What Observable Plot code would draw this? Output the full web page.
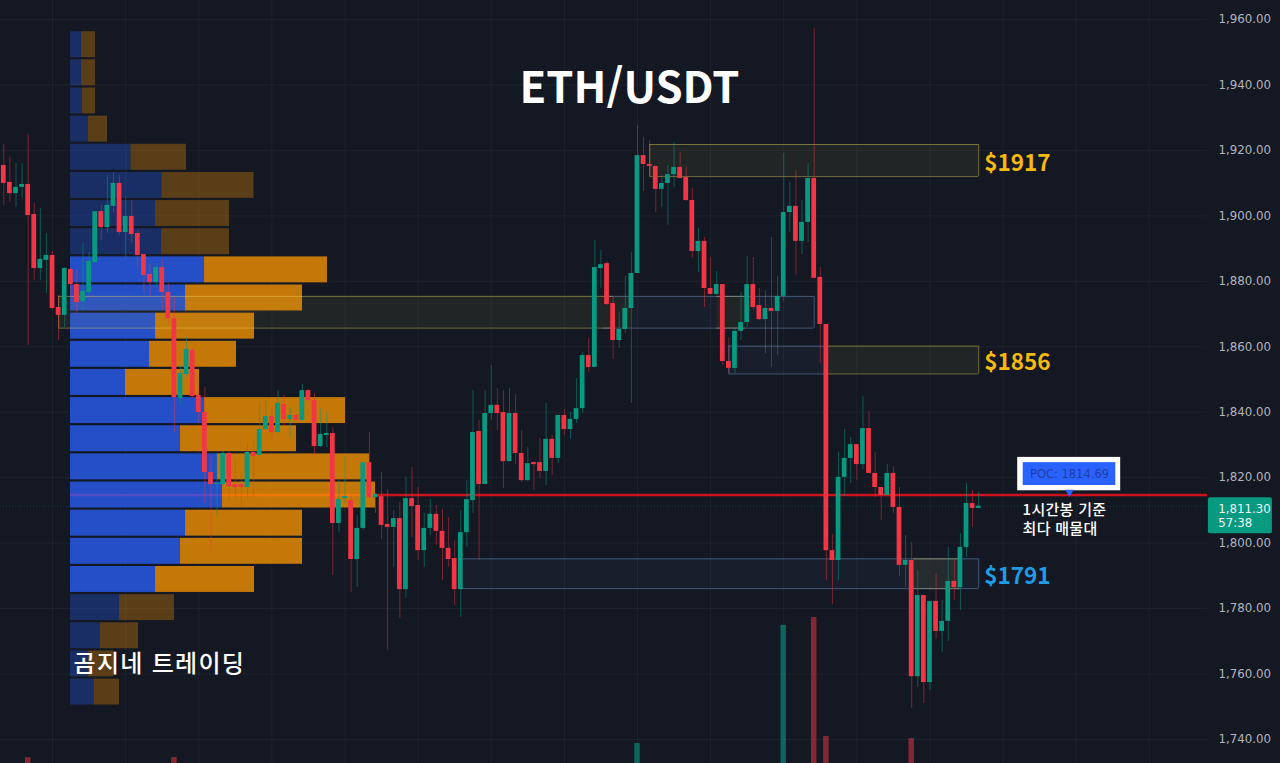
<!DOCTYPE html>
<html lang="ko">
<head>
<meta charset="utf-8">
<title>ETH/USDT</title>
<script src="https://cdn.jsdelivr.net/npm/d3@7"></script>
<script src="https://cdn.jsdelivr.net/npm/@observablehq/plot@0.6"></script>
<style>
html,body{margin:0;padding:0;background:#141823;overflow:hidden}
svg{display:block}
</style>
</head>
<body>
<div id="chart"></div>
<script>
// Hourly candles
const open = [1915.4,1910.2,1906.8,1908.7,1909.6,1900.4,1883.9,1886.4,1887.9,1872.0,1869.6,1883.6,1879.0,1873.8,1876.6,1885.7,1901.3,1896.4,1902.9,1909.9,
1894.9,1899.8,1894.6,1888.2,1882.1,1879.6,1884.2,1876.6,1868.6,1844.2,1851.5,1858.9,1845.1,1839.9,1821.6,1817.9,1817.9,1827.4,1817.9,1817.9,
1817.0,1827.7,1826.8,1834.7,1838.7,1833.8,1842.4,1837.8,1839.0,1837.5,1846.6,1843.6,1829.5,1832.9,1833.5,1806.0,1813.6,1813.0,1795.0,1804.5,
1824.6,1813.9,1814.2,1805.7,1804.8,1807.5,1785.8,1813.6,1811.5,1797.7,1804.5,1808.8,1803.6,1798.4,1795.3,1785.8,1803.2,1813.0,1834.1,1817.9,
1839.6,1842.1,1839.9,1824.9,1839.6,1827.4,1819.1,1824.6,1824.6,1821.9,1831.7,1825.9,1839.0,1834.7,1837.8,1841.1,1857.3,1853.7,1883.9,1885.4,
1873.2,1861.9,1865.3,1871.7,1882.4,1918.4,1915.7,1915.1,1908.1,1909.9,1912.6,1914.8,1911.7,1904.7,1889.1,1892.2,1877.8,1876.0,1879.0,1855.5,
1853.4,1864.7,1867.4,1879.0,1872.6,1868.3,1871.7,1870.8,1875.4,1901.0,1902.9,1892.2,1898.0,1911.4,1881.2,1866.8,1797.7,1794.7,1820.1,1825.9,
1830.1,1824.0,1835.0,1821.3,1817.0,1814.6,1821.3,1810.9,1793.2,1794.7,1759.2,1784.0,1757.4,1782.2,1773.0,1776.1,1788.3,1786.4,1798.7,1812.1,1810.6];
const high = [1921.8,1917.8,1916.0,1916.0,1924.9,1903.8,1902.2,1894.6,1889.1,1875.7,1884.2,1884.2,1883.3,1891.6,1888.8,1901.3,1903.2,1912.3,1913.2,1912.3,
1905.6,1904.7,1895.5,1888.2,1885.4,1885.4,1886.7,1879.3,1875.1,1854.3,1862.8,1859.5,1848.2,1847.6,1826.8,1827.4,1828.0,1827.7,1825.2,1821.3,
1830.4,1831.4,1843.0,1843.6,1841.4,1846.6,1845.1,1841.4,1839.3,1848.5,1847.0,1845.7,1841.1,1839.9,1835.3,1819.1,1826.2,1814.6,1808.4,1824.6,
1833.8,1815.2,1821.6,1816.4,1810.0,1812.4,1820.1,1823.1,1817.0,1809.1,1813.3,1811.5,1810.3,1807.8,1800.8,1810.0,1819.1,1846.6,1837.5,1846.6,
1854.3,1847.2,1846.6,1847.2,1845.4,1834.4,1829.2,1825.0,1832.0,1842.7,1832.9,1839.0,1840.8,1839.9,1850.3,1858.2,1862.5,1892.5,1889.4,1885.9,
1875.1,1870.5,1881.5,1888.8,1927.6,1923.9,1923.0,1915.1,1912.3,1915.4,1922.4,1919.4,1914.8,1908.4,1896.1,1893.4,1887.3,1883.0,1879.0,1862.8,
1865.9,1876.6,1887.6,1887.3,1877.8,1877.2,1893.4,1881.5,1919.1,1910.2,1913.9,1904.7,1916.0,1957.2,1884.2,1866.8,1802.6,1827.7,1834.7,1832.3,
1830.1,1844.8,1840.2,1827.7,1817.0,1824.0,1823.4,1817.0,1802.3,1800.2,1791.6,1784.0,1782.2,1790.7,1782.5,1798.7,1794.7,1802.9,1818.2,1816.1,1815.5];
const low = [1903.2,1904.1,1902.6,1905.3,1860.4,1880.2,1880.2,1876.3,1871.1,1861.9,1865.9,1875.1,1870.2,1871.1,1875.1,1885.7,1892.5,1894.6,1901.0,1894.0,
1887.3,1891.6,1884.2,1876.3,1875.4,1878.1,1871.1,1867.4,1833.8,1842.1,1850.6,1844.2,1836.6,1812.1,1797.7,1808.4,1817.0,1813.0,1813.6,1810.9,
1813.9,1813.9,1826.2,1834.4,1831.4,1833.5,1835.3,1832.3,1837.2,1837.2,1843.0,1826.8,1829.2,1829.2,1790.1,1803.2,1812.1,1784.9,1786.4,1803.9,
1813.6,1809.1,1801.1,1767.2,1792.6,1777.0,1783.1,1801.7,1794.7,1792.6,1802.3,1799.3,1788.6,1792.6,1780.9,1777.3,1798.7,1809.1,1794.7,1817.9,
1837.5,1834.4,1816.7,1824.9,1824.0,1818.5,1818.8,1816.1,1819.7,1817.6,1820.7,1824.3,1832.9,1831.7,1836.6,1839.6,1852.1,1853.7,1877.8,1872.6,
1856.1,1859.5,1864.1,1842.7,1882.4,1907.4,1912.0,1901.0,1902.6,1897.1,1908.7,1911.4,1904.4,1887.0,1882.7,1872.0,1876.0,1875.7,1854.3,1851.8,
1851.8,1861.9,1865.9,1871.1,1868.0,1857.9,1853.7,1857.3,1873.8,1894.9,1881.8,1888.2,1891.9,1880.9,1854.9,1788.6,1781.2,1788.6,1814.2,1818.2,
1819.1,1822.5,1821.3,1813.9,1806.9,1814.6,1809.1,1789.8,1786.4,1749.5,1755.9,1751.0,1755.0,1770.6,1766.6,1769.9,1782.5,1779.4,1795.6,1804.8,1810.6];
const close = [1909.9,1906.8,1908.7,1909.6,1900.1,1883.9,1886.7,1887.9,1871.7,1869.6,1883.9,1879.0,1873.5,1876.9,1886.1,1901.3,1896.4,1903.2,1909.9,1894.9,
1899.8,1894.3,1887.9,1881.8,1879.6,1884.2,1876.6,1868.6,1844.5,1851.8,1859.2,1844.8,1839.9,1821.6,1817.9,1818.2,1827.4,1817.3,1817.0,1817.0,
1827.7,1826.5,1834.7,1838.7,1833.8,1842.7,1837.8,1839.0,1837.5,1846.6,1843.6,1829.5,1833.2,1833.5,1806.0,1813.3,1814.2,1795.0,1804.5,1824.6,
1813.9,1814.9,1805.4,1804.8,1807.5,1785.8,1813.6,1811.2,1797.7,1804.5,1808.8,1803.6,1798.4,1795.0,1785.8,1803.2,1813.3,1833.8,1817.9,1839.6,
1842.1,1839.6,1824.9,1839.6,1827.4,1819.1,1824.3,1824.0,1821.9,1831.7,1825.9,1839.0,1834.7,1837.8,1841.1,1857.3,1853.7,1884.2,1885.1,1872.9,
1861.9,1865.3,1871.7,1882.4,1918.4,1915.7,1915.1,1908.1,1909.9,1912.6,1914.8,1911.4,1904.7,1889.1,1892.2,1877.8,1876.0,1879.0,1855.5,1853.4,
1864.7,1867.4,1879.0,1872.0,1868.3,1871.7,1870.8,1875.4,1901.0,1902.9,1892.2,1898.0,1911.4,1880.9,1866.8,1797.7,1794.7,1820.1,1825.9,1830.1,
1824.0,1835.0,1821.3,1817.0,1814.6,1821.3,1810.9,1793.2,1794.7,1759.2,1784.0,1757.4,1782.2,1773.0,1776.1,1788.3,1786.4,1798.7,1812.1,1810.6,1811.3];

// Visible profile of volume: price rows (top of each row), buy and sell volume
const rowTop = [1956.6,1948.0,1939.4,1930.8,1922.2,1913.6,1905.0,1896.4,1887.8,1879.2,1870.6,1862.0,1853.4,1844.8,1836.2,1827.6,1819.0,1810.4,1801.8,1793.2,1784.6,1776.0,1767.4,1758.8];
const buyVol = [11,11,12,18,60.5,91.5,85,91,134,115,85,79,55,134,110,147,152,115,110,85,49,30,18,24];
const sellVol = [14,14,13,19,55.5,92,74,68,123,117,99,87,74,141,116,152,153,117,122,99,55,38,25,25];

// Volume pane: bars tall enough to show above the bottom edge
const volBars = [{i:4,v:1.8,up:false},{i:28,v:1.8,up:false},{i:104,v:6.1,up:true},{i:128,v:42.2,up:true},{i:133,v:44.6,up:false},{i:135,v:8.25,up:false},{i:149,v:7.6,up:false}];

const priceTicks = [1740,1760,1780,1800,1820,1840,1860,1880,1900,1920,1940,1960];
const timeGrid = [8,20,32,44,56,68,80,92,104,116,128,140,152,164,176,188];

const POC = 1814.69, LAST = 1811.30;

const yellowFill = [
  {x1:106,x2:160,top:1921.8,bot:1912.0},
  {x1:9,x2:103,top:1875.4,bot:1865.7},
  {x1:117,x2:121.7,top:1875.4,bot:1865.7},
  {x1:135,x2:160,top:1860.2,bot:1851.7},
  {x1:149.3,x2:157,top:1795.2,bot:1786.1}
];
const blueFill = [
  {x1:103,x2:117,top:1875.4,bot:1865.7},
  {x1:121.7,x2:133,top:1875.4,bot:1865.7},
  {x1:119,x2:135,top:1860.2,bot:1851.7},
  {x1:75,x2:160,top:1795.2,bot:1786.1}
];
const yellowH = [
  {x1:106,x2:160,y:1921.8},{x1:106,x2:160,y:1912.0},
  {x1:9,x2:100,y:1875.4},{x1:9,x2:100,y:1865.7},
  {x1:117,x2:121.7,y:1875.4},{x1:117,x2:121.7,y:1865.7},
  {x1:135,x2:160,y:1860.2},{x1:135,x2:160,y:1851.7},
  {x1:149.3,x2:157,y:1795.2},{x1:149.3,x2:157,y:1786.1}
];
const yellowV = [
  {x:9,y1:1875.4,y2:1865.7},{x:106,y1:1921.8,y2:1912.0},{x:160,y1:1921.8,y2:1912.0},{x:160,y1:1860.2,y2:1851.7}
];
const blueH = [
  {x1:98.4,x2:133,y:1875.4},{x1:98.4,x2:133,y:1865.7},
  {x1:119,x2:135,y:1860.2},{x1:119,x2:135,y:1851.7},
  {x1:75,x2:160,y:1795.2},{x1:75,x2:160,y:1786.1}
];
const blueV = [
  {x:133,y1:1875.4,y2:1865.7},{x:119,y1:1860.2,y2:1851.7},{x:160,y1:1795.2,y2:1786.1},{x:75,y1:1795.2,y2:1786.1}
];

const UP = "#089981", DOWN = "#F23645", BG = "#141823";
const KR = "'Noto Sans CJK KR','Noto Sans',sans-serif";
const AXIS = "'DejaVu Sans',sans-serif";

const candles = open.map((o,i)=>({i,o,h:high[i],l:low[i],c:close[i]}));
const ups = candles.filter(d=>d.c>=d.o), downs = candles.filter(d=>d.c<d.o);

const profileStart = 10.95, volPerBar = 6.093, rowStep = 8.6;
const rows = rowTop.map((top,k)=>({top,bot:top-rowStep,buy:buyVol[k],sell:sellVol[k]}));
const inValueArea = d=>d.top<=1887.8 && d.top>=1793.2;
const bright = rows.filter(inValueArea), dim = rows.filter(d=>!inValueArea(d));
const buyX2 = d=>profileStart+d.buy/volPerBar;
const sellX2 = d=>profileStart+(d.buy+d.sell)/volPerBar;
const rowMark = (data,fill,x1,x2,op)=>Plot.rect(data,{x1,x2,y1:"bot",y2:"top",fill,fillOpacity:op,insetTop:1.1,insetBottom:1.1});

const volBase = 1732.67;

const chart = Plot.plot({
  width:1280,height:763,marginLeft:0,marginRight:73,marginTop:0,marginBottom:0,
  style:{background:BG,overflow:"visible"},
  x:{domain:[-0.5416,197.55],axis:null},
  y:{domain:[volBase,1965.8]},
  marks:[
    Plot.ruleX(timeGrid,{stroke:"#2a2e39",strokeOpacity:.45,strokeWidth:1}),
    Plot.ruleY(priceTicks,{stroke:"#2a2e39",strokeOpacity:.45,strokeWidth:1}),
    Plot.axisY(priceTicks,{anchor:"right",tickSize:0,tickPadding:11,tickFormat:d3.format(",.2f"),label:null,fontSize:11.8,fontFamily:AXIS,fill:"#b2b5be"}),
    Plot.ruleY([LAST],{stroke:UP,strokeOpacity:.3,strokeDasharray:"1,2"}),
    Plot.ruleY([POC],{x1:profileStart,x2:197.55,stroke:"#cc131b",strokeWidth:2.5}),

    rowMark(bright,"#2962FF",profileStart,buyX2,.75),
    rowMark(bright,"#FF9800",buyX2,sellX2,.75),
    rowMark(dim,"#2962FF",profileStart,buyX2,.3),
    rowMark(dim,"#FF9800",buyX2,sellX2,.3),

    Plot.rect(yellowFill,{x1:"x1",x2:"x2",y1:"bot",y2:"top",fill:"#c8c040",fillOpacity:.08}),
    Plot.rect(blueFill,{x1:"x1",x2:"x2",y1:"bot",y2:"top",fill:"#7aa0e0",fillOpacity:.05}),
    Plot.ruleY(yellowH,{x1:"x1",x2:"x2",y:"y",stroke:"#f0dc5a",strokeOpacity:.42}),
    Plot.ruleX(yellowV,{x:"x",y1:"y1",y2:"y2",stroke:"#f0dc5a",strokeOpacity:.42}),
    Plot.ruleY(blueH,{x1:"x1",x2:"x2",y:"y",stroke:"#78a5d7",strokeOpacity:.45}),
    Plot.ruleX(blueV,{x:"x",y1:"y1",y2:"y2",stroke:"#78a5d7",strokeOpacity:.45}),

    Plot.rect(volBars.filter(d=>d.up),{x1:d=>d.i-.45,x2:d=>d.i+.45,y1:volBase,y2:d=>volBase+d.v,fill:UP,fillOpacity:.6}),
    Plot.rect(volBars.filter(d=>!d.up),{x1:d=>d.i-.45,x2:d=>d.i+.45,y1:volBase,y2:d=>volBase+d.v,fill:DOWN,fillOpacity:.5}),

    Plot.ruleX(ups,{x:"i",y1:"l",y2:"h",stroke:UP,strokeOpacity:.5,strokeWidth:1}),
    Plot.ruleX(downs,{x:"i",y1:"l",y2:"h",stroke:DOWN,strokeOpacity:.45,strokeWidth:1}),
    Plot.rect(ups,{x1:d=>d.i-.39,x2:d=>d.i+.39,y1:"o",y2:"c",fill:UP}),
    Plot.rect(downs,{x1:d=>d.i-.39,x2:d=>d.i+.39,y1:"o",y2:"c",fill:DOWN}),

    Plot.text(["ETH/USDT"],{x:102.7,y:1938.8,text:d=>d,fill:"#fff",fontSize:43.5,fontWeight:700,fontFamily:KR}),
    Plot.text(["$1917"],{x:160.9,y:1916,text:d=>d,fill:"#f5b90f",fontSize:22.5,fontWeight:700,fontFamily:KR,textAnchor:"start"}),
    Plot.text(["$1856"],{x:160.9,y:1855.2,text:d=>d,fill:"#f5b90f",fontSize:22.5,fontWeight:700,fontFamily:KR,textAnchor:"start"}),
    Plot.text(["$1791"],{x:160.9,y:1789.8,text:d=>d,fill:"#1f9ce4",fontSize:22.5,fontWeight:700,fontFamily:KR,textAnchor:"start"}),
    Plot.text(["곰지네 트레이딩"],{x:11.44,y:1762.9,text:d=>d,fill:"#fff",fontSize:24,fontWeight:500,fontFamily:KR,textAnchor:"start"}),
    Plot.text(["1시간봉 기준"],{x:167.2,y:1810,text:d=>d,fill:"#fff",fontSize:15,fontWeight:500,fontFamily:KR,textAnchor:"start"}),
    Plot.text(["최다 매물대"],{x:167.2,y:1804.2,text:d=>d,fill:"#fff",fontSize:15,fontWeight:500,fontFamily:KR,textAnchor:"start"}),

    Plot.rect([0],{x1:166.4,x2:183.3,y1:1816.0,y2:1826.2,fill:"#fff"}),
    Plot.rect([0],{x1:167.3,x2:182.5,y1:1817.6,y2:1824.6,fill:"#2962FF"}),
    Plot.dot([0],{x:174.9,y:1815.6,symbol:"triangle2",rotate:180,r:4,fill:"#2962FF"}),
    Plot.text(["POC: 1814.69"],{x:174.9,y:1821.1,text:d=>d,fill:"#1f3f9e",fontSize:11.5,fontFamily:AXIS}),

    Plot.rect([0],{x1:197.7,x2:208.2,y1:1802.9,y2:1813.9,fill:UP,rx:2}),
    Plot.text(["1,811.30"],{x:199.3,y:1810.4,text:d=>d,fill:"#e8f5f2",fontSize:11.8,fontFamily:AXIS,textAnchor:"start"}),
    Plot.text(["57:38"],{x:199.3,y:1806.2,text:d=>d,fill:"#e8f5f2",fontSize:11.8,fontFamily:AXIS,textAnchor:"start"})
  ]
});
// The studio's Korean labels are set with wider tracking
chart.querySelectorAll("text").forEach(t=>{
  if (t.textContent==="곰지네 트레이딩") t.setAttribute("letter-spacing","1.3");
  if (t.textContent==="1시간봉 기준" || t.textContent==="최다 매물대") t.setAttribute("letter-spacing","0.3");
});
document.getElementById("chart").append(chart);
</script>
</body>
</html>
